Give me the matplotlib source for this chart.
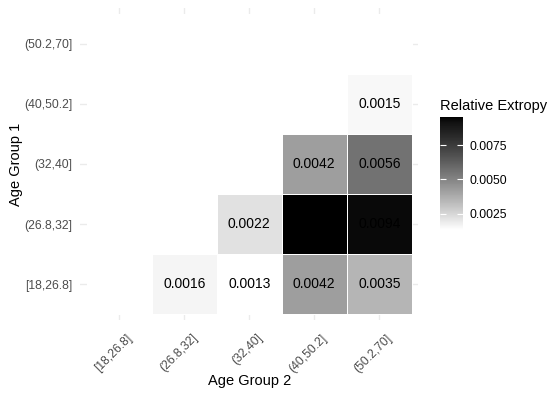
import numpy as np
import matplotlib
matplotlib.use("Agg")
import matplotlib.pyplot as plt
from matplotlib.colors import ListedColormap, Normalize
import matplotlib.transforms as mtransforms

plt.rcParams['font.family'] = ['Liberation Sans', 'DejaVu Sans']

# ==========================================
# Data
# ==========================================
age_groups = ["[18,26.8]", "(26.8,32]", "(32,40]", "(40,50.2]", "(50.2,70]"]

# (Age Group 1, Age Group 2, value)
group1 = ["[18,26.8]", "[18,26.8]", "[18,26.8]", "[18,26.8]",
          "(26.8,32]", "(26.8,32]", "(26.8,32]",
          "(32,40]", "(32,40]",
          "(40,50.2]"]
group2 = ["(26.8,32]", "(32,40]", "(40,50.2]", "(50.2,70]",
          "(32,40]", "(40,50.2]", "(50.2,70]",
          "(40,50.2]", "(50.2,70]",
          "(50.2,70]"]
extropy = [0.0016, 0.0013, 0.0042, 0.0035,
           0.0022, 0.0096, 0.0094,
           0.0042, 0.0056,
           0.0015]

n = len(age_groups)
grid = np.full((n, n), np.nan)
for g1, g2, v in zip(group1, group2, extropy):
    grid[age_groups.index(g1), age_groups.index(g2)] = v

# ==========================================
# white -> black gradient, interpolated in Lab (like ggplot)
# ==========================================
L = np.linspace(100, 0, 256)
Y = np.where(L > 8, ((L + 16) / 116) ** 3, L / 903.3)
g = np.where(Y <= 0.0031308, 12.92 * Y, 1.055 * Y ** (1 / 2.4) - 0.055)
cmap = ListedColormap(np.stack([g, g, g], axis=1))
cmap.set_bad("white")
vmin, vmax = min(extropy), max(extropy)
norm = Normalize(vmin, vmax)

# ==========================================
# Plot
# ==========================================
fig = plt.figure(figsize=(5.6, 3.96), dpi=100)
ax = fig.add_axes([80.3 / 560, 76 / 396, 338 / 560, 312 / 396])

xs = np.arange(n + 1) - 0.5
ax.pcolormesh(xs, xs, np.ma.masked_invalid(grid), cmap=cmap, norm=norm,
              edgecolors="white", linewidth=0.7, zorder=2)

for i in range(n):
    for j in range(n):
        if not np.isnan(grid[i, j]):
            ax.text(j, i, f"{grid[i, j]:.4f}", ha="center", va="center",
                    fontsize=10, color="black", zorder=3)

ax.set_xlim(-0.6, n - 0.4)
ax.set_ylim(-0.6, n - 0.4)
ax.set_xticks(range(n))
ax.set_yticks(range(n))
ax.set_yticklabels(age_groups, fontsize=8.8, color="#4d4d4d")
ax.set_xticklabels([])

# rotated x labels, placed by hand below the panel
xlab_tr = ax.get_xaxis_transform() + mtransforms.ScaledTranslation(
    7 / 100, -12 / 100, fig.dpi_scale_trans)
for k, lab in enumerate(age_groups):
    ax.text(k, 0, lab, transform=xlab_tr, fontsize=8.8, color="#4d4d4d",
            rotation=45, ha="right", va="top", rotation_mode="anchor",
            clip_on=False)

ax.tick_params(length=0, pad=5.5)
ax.grid(True, color="#ebebeb", linewidth=1.0, zorder=0)
ax.set_axisbelow(True)
for s in ax.spines.values():
    s.set_visible(False)

ax.text(0.5, -61 / 312, "Age Group 2", transform=ax.transAxes,
        fontsize=10.5, ha="center", va="center")
ax.set_ylabel("Age Group 1", fontsize=10.5, labelpad=1)

# ==========================================
# Colorbar legend
# ==========================================
cax = fig.add_axes([440 / 560, (396 - 230) / 396, 22.7 / 560, 113.3 / 396])
sm = plt.cm.ScalarMappable(norm=norm, cmap=cmap)
cb = fig.colorbar(sm, cax=cax, ticks=[0.0025, 0.0050, 0.0075])
cb.outline.set_visible(False)
cb.ax.set_yticklabels(["0.0025", "0.0050", "0.0075"], fontsize=8.8)
cb.ax.tick_params(length=4.5, width=0.8, color="white", direction="in",
                  left=True, right=True, pad=5)
fig.text(440 / 560, (396 - 106) / 396, "Relative Extropy", fontsize=10.5,
         ha="left", va="center")

fig.savefig("out.png", dpi=100, facecolor="white")
